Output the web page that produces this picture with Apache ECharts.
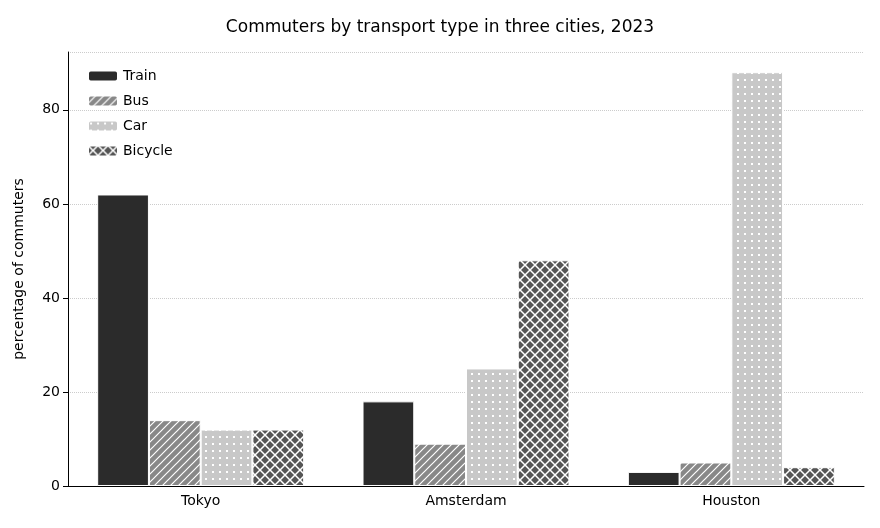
<!DOCTYPE html>
<html>
<head>
<meta charset="UTF-8">
<script src="https://cdn.jsdelivr.net/npm/echarts@6/dist/echarts.min.js"></script>
</head>
<body style="margin:0">
<div id="chart" style="width:880px;height:528px"></div>
<script>
const cities = ['Tokyo', 'Amsterdam', 'Houston'];
const modes = ['Train', 'Bus', 'Car', 'Bicycle'];
const train = [62, 18, 3];
const bus = [14, 9, 5];
const car = [12, 25, 88];
const bicycle = [12, 48, 4];
const values = [train, bus, car, bicycle];

// pattern tiles
function tile(bg, draw, size) {
    const c = document.createElement('canvas');
    c.width = c.height = size;
    const g = c.getContext('2d');
    g.fillStyle = bg;
    g.fillRect(0, 0, size, size);
    g.strokeStyle = '#fff';
    g.fillStyle = '#fff';
    g.lineWidth = 1.2;
    draw(g, size);
    return c;
}
const fills = [
    '#2b2b2b',
    {image: tile('#888888', (g, s) => {
        g.beginPath();
        g.moveTo(0, s); g.lineTo(s, 0);
        g.moveTo(-s / 2, s / 2); g.lineTo(s / 2, -s / 2);
        g.moveTo(s / 2, s * 1.5); g.lineTo(s * 1.5, s / 2);
        g.stroke();
    }, 8), repeat: 'repeat'},
    {image: tile('#c8c8c8', (g, s) => {
        g.fillRect(2, 2, 2, 2);
    }, 7), repeat: 'repeat'},
    {image: tile('#555555', (g, s) => {
        g.lineWidth = 1.5;
        g.beginPath();
        g.moveTo(0, 0); g.lineTo(s, s);
        g.moveTo(0, s); g.lineTo(s, 0);
        g.stroke();
    }, 10), repeat: 'repeat'}
];

const option = {
    animation: false,
    textStyle: {fontFamily: 'DejaVu Sans'},
    title: {
        text: 'Commuters by transport type in three cities, 2023',
        left: 'center', top: 14,
        textStyle: {fontSize: 17, fontWeight: 'normal', color: '#000'}
    },
    legend: {
        orient: 'vertical', left: 82, top: 64,
        itemWidth: 30, itemHeight: 11, itemGap: 11,
        textStyle: {fontSize: 14, color: '#000'},
        data: modes
    },
    grid: {left: 68, right: 16, top: 52, bottom: 42},
    xAxis: {
        type: 'category', data: cities,
        axisLine: {lineStyle: {color: '#000'}},
        axisTick: {alignWithLabel: true, lineStyle: {color: '#000'}},
        axisLabel: {fontSize: 14, color: '#000'}
    },
    yAxis: {
        type: 'value', min: 0, max: 92.3, interval: 20,
        name: 'percentage of commuters', nameLocation: 'middle', nameGap: 42,
        nameTextStyle: {fontSize: 14, color: '#000'},
        axisLine: {show: true, lineStyle: {color: '#000'}},
        axisTick: {show: true, lineStyle: {color: '#000'}},
        axisLabel: {fontSize: 14, color: '#000', showMaxLabel: false},
        splitLine: {lineStyle: {color: '#cccccc', type: 'dotted'}}
    },
    series: modes.map((m, i) => ({
        name: m, type: 'bar', data: values[i],
        barGap: '0%', barCategoryGap: '22%',
        itemStyle: {color: fills[i], borderColor: '#fff', borderWidth: 1}
    }))
};
echarts.init(document.getElementById('chart')).setOption(option);
</script>
</body>
</html>
